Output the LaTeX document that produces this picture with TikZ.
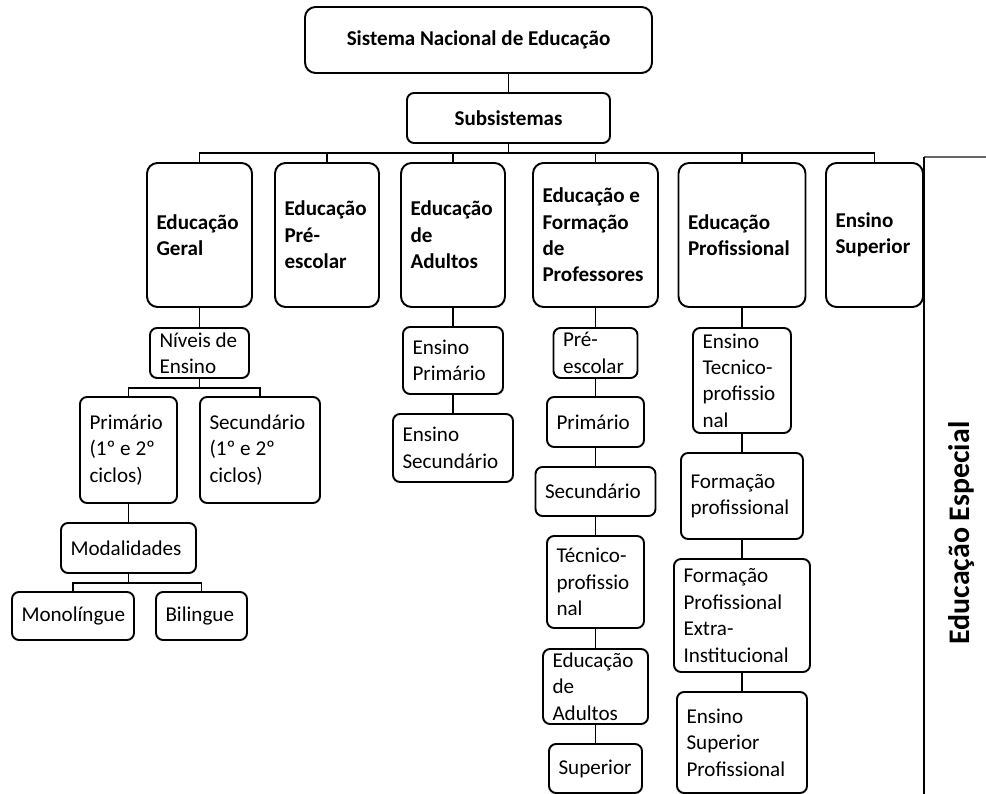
\documentclass[tikz,border=0pt]{standalone}
\usepackage{fontspec}
\setmainfont{Carlito}
\usepackage{tikz}
\usetikzlibrary{calc}
\hyphenpenalty=10000
\exhyphenpenalty=10000
\colorlet{orgLine}{black}
\colorlet{orgFrame}{black!60}
\tikzset{
  orgbox/.style={
    rectangle, rounded corners=6pt, draw=orgLine, line width=1.1pt,
    align=flush left, font=\fontsize{12pt}{15pt}\selectfont\bfseries,
    inner xsep=0.19cm, inner ysep=1pt
  },
  orgsmall/.style={
    rectangle, rounded corners=4pt, draw=orgLine, line width=1.1pt,
    align=flush left, font=\fontsize{12pt}{15pt}\selectfont,
    inner xsep=0.19cm, inner ysep=1pt
  },
  orgsize/.style 2 args={text width=#1cm-0.38cm, minimum height=#2cm},
  orglink/.style={draw=orgLine, line width=1.1pt},
  orgframe/.style={line width=0.8pt}
}

\begin{document}
\begin{tikzpicture}[x=1cm,y=1cm]
  \useasboundingbox (0,0) rectangle (19.72,15.88);

  \node[orgbox, align=center, minimum width=6.94cm, minimum height=1.32cm] (sne) at (9.57,15.08)
    {Sistema Nacional de Educação};
  \node[orgbox, align=center, rounded corners=4pt, minimum width=4.06cm, minimum height=1.0cm] (subs) at (10.17,13.52)
    {Subsistemas};

  % subsistemas
  \node[orgbox, orgsize={2.10}{2.88}] (geral) at (3.99,11.18) {Educação\\Geral};
  \node[orgbox, orgsize={2.08}{2.88}] (presc) at (6.54,11.18) {Educação\\Pré-\\escolar};
  \node[orgbox, orgsize={2.08}{2.88}] (adult) at (9.06,11.18) {Educação\\de\\Adultos};
  \node[orgbox, orgsize={2.50}{2.88}] (profs) at (11.91,11.18) {Educação e\\Formação\\de\\Professores};
  \node[orgbox, orgsize={2.54}{2.88}] (eprof) at (14.84,11.18) {Educação\\Profissional};
  \node[orgbox, orgsize={1.94}{2.88}] (esup) at (17.49,11.18) {Ensino\\Superior};

  % educacao geral
  \node[orgsmall, orgsize={1.98}{1.0}] (niveis) at (3.99,8.82) {Níveis de\\Ensino};
  \node[orgsmall, orgsize={1.94}{2.12}] (gprim) at (2.57,6.88) {Primário\\(1º e 2º\\ciclos)};
  \node[orgsmall, orgsize={2.40}{2.12}] (gsec) at (5.20,6.88) {Secundário\\(1º e 2º\\ciclos)};
  \node[orgsmall, orgsize={2.70}{1.0}] (modal) at (2.57,4.92) {Modalidades};
  \node[orgsmall, orgsize={2.44}{0.96}] (mono) at (1.46,3.56) {Monolíngue};
  \node[orgsmall, orgsize={1.82}{0.96}] (bili) at (4.03,3.56) {Bilingue};

  % adultos
  \node[orgsmall, orgsize={2.00}{1.34}] (aprim) at (9.06,8.67) {Ensino\\Primário};
  \node[orgsmall, orgsize={2.40}{1.36}] (asec) at (9.06,6.92) {Ensino\\Secundário};

  % professores
  \node[orgsmall, orgsize={1.68}{1.0}] (ppre) at (11.91,8.82) {Pré-\\escolar};
  \node[orgsmall, orgsize={1.94}{1.0}] (pprim) at (11.91,7.44) {Primário};
  \node[orgsmall, orgsize={2.40}{0.98}] (psec) at (11.91,6.05) {Secundário};
  \node[orgsmall, orgsize={1.94}{1.84}] (ptec) at (11.91,4.24) {Técnico-\\profissio\\nal};
  \node[orgsmall, orgsize={2.10}{1.50}] (padu) at (11.91,2.15) {Educação\\de\\Adultos};
  \node[orgsmall, orgsize={1.86}{0.98}] (psup) at (11.91,0.51) {Superior};

  % profissional
  \node[orgsmall, orgsize={1.96}{2.10}] (etec) at (14.84,8.27) {Ensino\\Tecnico-\\profissio\\nal};
  \node[orgsmall, orgsize={2.44}{1.72}] (fprof) at (14.84,5.96) {Formação\\profissional};
  \node[orgsmall, orgsize={2.72}{2.26}] (fext) at (14.84,3.57) {Formação\\Profissional\\Extra-\\Institucional};
  \node[orgsmall, orgsize={2.60}{2.02}] (esprof) at (14.84,1.03) {Ensino\\Superior\\Profissional};

  % connectors
  \coordinate (bus) at ($(subs.south)+(0,-0.18)$);
  \draw[orglink] (subs.north) -- (subs.north |- sne.south);
  \draw[orglink] (subs.south) -- (bus);
  \draw[orglink] (geral.north) |- (bus);
  \draw[orglink] (presc.north) |- (bus);
  \draw[orglink] (adult.north) |- (bus);
  \draw[orglink] (profs.north) |- (bus);
  \draw[orglink] (eprof.north) |- (bus);
  \draw[orglink] (esup.north) |- (bus);

  \coordinate (nbus) at ($(niveis.south)+(0,-0.18)$);
  \draw[orglink] (geral.south) -- (niveis.north);
  \draw[orglink] (niveis.south) -- (nbus);
  \draw[orglink] (gprim.north) |- (nbus);
  \draw[orglink] (gsec.north) |- (nbus);
  \draw[orglink] (gprim.south) -- (modal.north);
  \coordinate (mbus) at ($(modal.south)+(0,-0.18)$);
  \draw[orglink] (modal.south) -- (mbus);
  \draw[orglink] (mono.north) |- (mbus);
  \draw[orglink] (bili.north) |- (mbus);

  \draw[orglink] (adult.south) -- (aprim.north);
  \draw[orglink] (aprim.south) -- (asec.north);

  \draw[orglink] (profs.south) -- (ppre.north);
  \draw[orglink] (ppre.south) -- (pprim.north);
  \draw[orglink] (pprim.south) -- (psec.north);
  \draw[orglink] (psec.south) -- (ptec.north);
  \draw[orglink] (ptec.south) -- (padu.north);
  \draw[orglink] (padu.south) -- (psup.north);

  \draw[orglink] (eprof.south) -- (etec.north);
  \draw[orglink] (etec.south) -- (fprof.north);
  \draw[orglink] (fprof.south) -- (fext.north);
  \draw[orglink] (fext.south) -- (esprof.north);

  % educacao especial
  \coordinate (espTop) at (18.48,12.74);
  \coordinate (espBot) at (18.48,0);
  \draw[orgframe, draw=orgFrame] (espTop) -- (19.72,12.74);
  \draw[orgframe, draw=orgLine] (espBot) -- (espTop);
  \node[rotate=90, font=\fontsize{17pt}{20pt}\selectfont\bfseries] (esp) at (19.24,5.22) {Educação Especial};
\end{tikzpicture}
\end{document}
